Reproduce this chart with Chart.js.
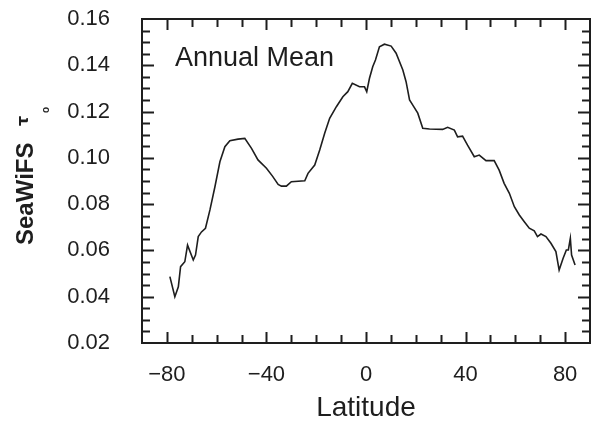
<!DOCTYPE html>
<html>
<head>
<meta charset="utf-8">
<script src="https://cdn.jsdelivr.net/npm/chart.js@4/dist/chart.umd.min.js"></script>
<style>
  html, body { margin: 0; padding: 0; background: #fff; }
  canvas { display: block; }
</style>
</head>
<body>
<canvas id="c" width="592" height="431"></canvas>
<script>
// latitude (deg) and annual-mean SeaWiFS aerosol optical depth
const lat = [
  -78.8, -76.8, -75.4, -74.5, -72.8, -71.7, -69.4, -68.5, -67.4, -66.1,
  -64.5, -62.7, -60.7, -58.7, -56.7, -54.7, -51.4, -48.7, -46.0, -43.4,
  -40.0, -37.5, -35.3, -34.0, -32.0, -30.0, -24.6, -23.3, -20.6, -18.6,
  -16.6, -14.6, -11.9, -9.3, -7.3, -5.5, -2.6, -0.6, 0.3, 1.4,
  2.7, 3.8, 5.4, 7.4, 10.1, 12.1, 14.8, 16.1, 17.5, 18.8,
  20.8, 22.8, 25.5, 30.8, 32.8, 35.5, 36.8, 38.8, 40.8, 43.5,
  45.5, 48.2, 51.5, 53.5, 55.5, 57.6, 59.6, 61.6, 63.6, 65.6,
  67.6, 68.9, 70.3, 72.3, 74.3, 76.3, 77.6, 79.2, 80.5, 81.3,
  82.1, 82.6, 84.0
];
const tau = [
  0.0487, 0.0400, 0.0443, 0.0530, 0.0551, 0.0623, 0.0559, 0.0580, 0.0660, 0.0680,
  0.0696, 0.0775, 0.0875, 0.0983, 0.1048, 0.1074, 0.1081, 0.1084, 0.1041, 0.0991,
  0.0955, 0.0920, 0.0885, 0.0878, 0.0878, 0.0897, 0.0901, 0.0933, 0.0969, 0.1034,
  0.1106, 0.1171, 0.1221, 0.1264, 0.1286, 0.1322, 0.1307, 0.1307, 0.1286, 0.1344,
  0.1394, 0.1423, 0.1480, 0.1491, 0.1483, 0.1452, 0.1380, 0.1329, 0.1250, 0.1228,
  0.1193, 0.1128, 0.1125, 0.1123, 0.1132, 0.1120, 0.1091, 0.1094, 0.1055, 0.1005,
  0.1012, 0.0988, 0.0988, 0.0947, 0.0890, 0.0847, 0.0789, 0.0753, 0.0724, 0.0696,
  0.0685, 0.0660, 0.0671, 0.0660, 0.0631, 0.0595, 0.0515, 0.0566, 0.0602, 0.0602,
  0.0652, 0.0580, 0.0537
];
const xTicks = [-80, -40, 0, 40, 80];
const yTicks = [0.02, 0.04, 0.06, 0.08, 0.10, 0.12, 0.14, 0.16];

const INK = '#1e1e1e';
const FAM = '"Liberation Sans", Arial, sans-serif';

// box, inward ticks on all four sides, panel text and y title
const frame = {
  id: 'frame',
  afterDatasetsDraw(chart) {
    const { ctx, chartArea: a, scales: { x, y } } = chart;
    ctx.save();
    ctx.strokeStyle = INK;
    ctx.lineWidth = 2;
    ctx.strokeRect(a.left, a.top, a.right - a.left, a.bottom - a.top);
    ctx.beginPath();
    for (let v = -80; v <= 80; v += 10) {
      const px = Math.round(x.getPixelForValue(v)) + 0.5;
      const len = v % 40 === 0 ? 11 : 8;
      ctx.moveTo(px, a.bottom); ctx.lineTo(px, a.bottom - len);
      ctx.moveTo(px, a.top); ctx.lineTo(px, a.top + len);
    }
    for (let k = 5; k <= 31; k++) {
      const py = Math.round(y.getPixelForValue(k * 0.005)) + 0.5;
      const len = k % 4 === 0 ? 12 : 8;
      ctx.moveTo(a.left, py); ctx.lineTo(a.left + len, py);
      ctx.moveTo(a.right, py); ctx.lineTo(a.right - len, py);
    }
    ctx.stroke();

    ctx.fillStyle = INK;
    ctx.textBaseline = 'alphabetic';
    ctx.textAlign = 'left';
    ctx.font = '27px ' + FAM;
    ctx.fillText('Annual Mean', a.left + 33, a.top + 47);

    // rotated y title: SeaWiFS tau_o
    ctx.translate(33, 245);
    ctx.rotate(-Math.PI / 2);
    ctx.font = 'bold 24px ' + FAM;
    ctx.fillText('SeaWiFS', 0, 0);
    ctx.font = 'bold 16px "DejaVu Sans", sans-serif';
    ctx.fillText('τ', 119, -5);
    ctx.font = 'bold 10px ' + FAM;
    ctx.fillText('o', 132, 16);
    ctx.restore();
  }
};

new Chart(document.getElementById('c'), {
  type: 'line',
  data: {
    datasets: [{
      data: lat.map((v, i) => ({ x: v, y: tau[i] })),
      borderColor: INK, borderWidth: 1.6,
      pointRadius: 0, tension: 0, fill: false
    }]
  },
  options: {
    responsive: false,
    animation: false,
    layout: { padding: { top: 19, right: 2, left: 0, bottom: 0 } },
    plugins: { legend: { display: false }, tooltip: { enabled: false } },
    scales: {
      x: {
        type: 'linear', min: -90, max: 90,
        grid: { display: false }, border: { display: false },
        afterBuildTicks: s => { s.ticks = xTicks.map(v => ({ value: v })); },
        afterFit: s => { s.height = 88; s.paddingLeft = 0; s.paddingRight = 0; },
        ticks: {
          color: INK, padding: 11, maxRotation: 0, autoSkip: false,
          font: { family: FAM, size: 22 },
          callback: v => String(v).replace('-', '\u2212')
        },
        title: {
          display: true, text: 'Latitude', color: INK,
          font: { family: FAM, size: 28 },
          padding: { top: 0, bottom: 6 }
        }
      },
      y: {
        min: 0.02, max: 0.16,
        grid: { display: false }, border: { display: false },
        afterBuildTicks: s => { s.ticks = yTicks.map(v => ({ value: v })); },
        afterFit: s => { s.width = 142; s.paddingTop = 0; s.paddingBottom = 0; },
        ticks: {
          color: INK, padding: 24, autoSkip: false,
          font: { family: FAM, size: 22 },
          callback: v => v.toFixed(2)
        }
      }
    }
  },
  plugins: [frame]
});
</script>
</body>
</html>
